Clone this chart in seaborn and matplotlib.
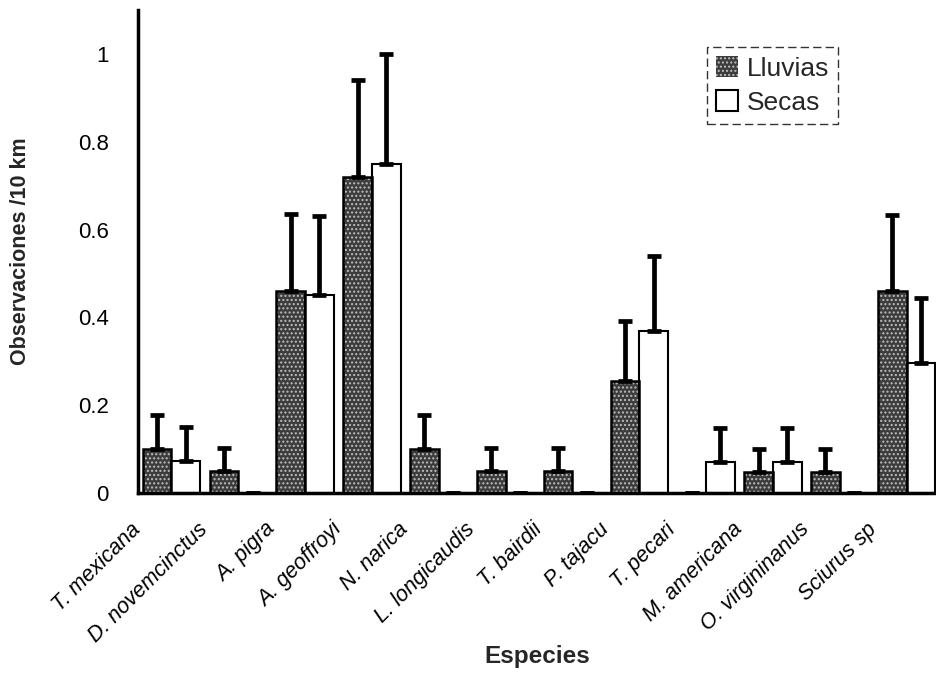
#!/usr/bin/env python3
"""Observaciones por 10 km por especie, temporada de lluvias vs secas."""

import numpy as np
import pandas as pd
import matplotlib
matplotlib.use("Agg")
import matplotlib.pyplot as plt
from matplotlib.patches import Patch, Rectangle
import seaborn as sns

species = [
    "T. mexicana", "D. novemcinctus", "A. pigra", "A. geoffroyi", "N. narica",
    "L. longicaudis", "T. bairdii", "P. tajacu", "T. pecari", "M. americana",
    "O. virgininanus", "Sciurus sp",
]
seasons = ["Lluvias", "Secas"]
lluvias = [0.10, 0.05, 0.46, 0.72, 0.10, 0.05, 0.05, 0.255, 0.0, 0.047, 0.047, 0.46]
lluvias_err = [0.078, 0.052, 0.175, 0.22, 0.077, 0.052, 0.052, 0.137, 0.0, 0.053, 0.053, 0.172]
secas = [0.073, 0.0, 0.45, 0.75, 0.0, 0.0, 0.0, 0.37, 0.07, 0.07, 0.0, 0.295]
secas_err = [0.077, 0.0, 0.18, 0.25, 0.0, 0.0, 0.0, 0.17, 0.077, 0.077, 0.0, 0.15]
yticks = [0, 0.2, 0.4, 0.6, 0.8, 1.0]
ytick_labels = ["0", "0.2", "0.4", "0.6", "0.8", "1"]

df = pd.DataFrame({
    "especie": species * 2,
    "temporada": [seasons[0]] * len(species) + [seasons[1]] * len(species),
    "valor": lluvias + secas,
})

sns.set_theme(style="white")
plt.rcParams["font.family"] = ["Liberation Sans", "DejaVu Sans"]

fig = plt.figure(figsize=(9.36, 6.77), dpi=100)
ax = fig.add_axes([138 / 936, 1 - 493 / 677, 802 / 936, 483 / 677])

dark = "#3c3c3c"
sns.barplot(
    data=df, x="especie", y="valor", hue="temporada", order=species,
    hue_order=seasons, palette={"Lluvias": dark, "Secas": "white"},
    width=0.86, errorbar=None, edgecolor="black", linewidth=1.5, ax=ax,
    legend=False,
)

# stippled look for the rainy-season bars, then redraw their outlines
for p in ax.containers[0].patches:
    p.set_hatch("....")
    p.set_edgecolor("#bdbdbd")
    p.set_linewidth(0)
    ax.add_patch(Rectangle(p.get_xy(), p.get_width(), p.get_height(), fill=False,
                           ec="black", lw=1.8, zorder=p.get_zorder() + 0.1))

for cont, vals, errs in [(ax.containers[0], lluvias, lluvias_err),
                         (ax.containers[1], secas, secas_err)]:
    xs = [p.get_x() + p.get_width() / 2 for p in cont.patches]
    ax.errorbar(xs, vals, yerr=[np.zeros(len(errs)), errs], fmt="none",
                ecolor="black", elinewidth=3.4, capsize=5, capthick=3.4, zorder=1)

ax.set_xlim(-0.5, len(species) - 0.5)
ax.set_ylim(0, 1.1)
ax.set_yticks(yticks, labels=ytick_labels, fontsize=16)
ax.set_xticks(np.arange(len(species)) - 0.5)
ax.set_xticklabels(species, rotation=45, ha="right", va="center",
                   rotation_mode="anchor", fontsize=15.5, style="italic")
ax.tick_params(axis="x", direction="out", length=6, width=2.5, pad=18, colors="black")
ax.tick_params(axis="y", direction="out", length=9, width=2, pad=12, colors="black")

for s in ["top", "right"]:
    ax.spines[s].set_visible(False)
for s in ["left", "bottom"]:
    ax.spines[s].set_color("black")
    ax.spines[s].set_linewidth(2.5)

ax.set_ylabel("Observaciones /10 km", fontsize=15.5, fontweight="bold", labelpad=34)
ax.set_xlabel("")
fig.text(537 / 936, 1 - 656 / 677, "Especies", ha="center", va="center",
         fontsize=17.5, fontweight="bold")

handles = [
    Patch(facecolor=dark, hatch="....", edgecolor="#bdbdbd", linewidth=0),
    Patch(facecolor="white", edgecolor="black", linewidth=1.5),
]
leg = ax.legend(handles, seasons, loc="upper right", bbox_to_anchor=(838 / 936, 1 - 47 / 677),
                bbox_transform=fig.transFigure, fontsize=19, frameon=True, fancybox=False,
                handlelength=0.85, handleheight=0.85, handletextpad=0.3, borderpad=0.35,
                labelspacing=0.35, borderaxespad=0)
leg.get_frame().set_edgecolor("black")
leg.get_frame().set_linewidth(1.0)
leg.get_frame().set_linestyle((0, (6, 3)))

fig.savefig("out.png", dpi=100)
